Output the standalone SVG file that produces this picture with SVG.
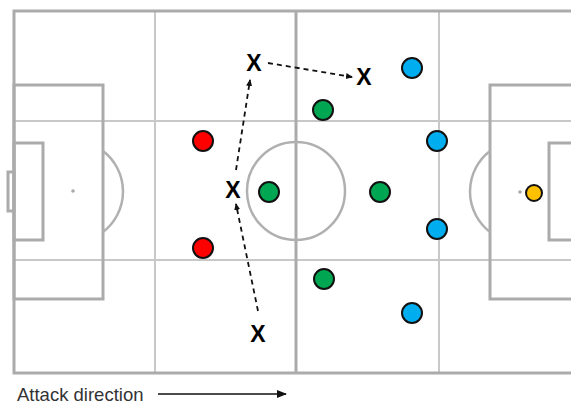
<svg xmlns="http://www.w3.org/2000/svg" width="571" height="405" viewBox="0 0 571 405">
<style>
.outer{fill:none;stroke:#ababab;stroke-width:3}
.grid{fill:none;stroke:#c8c8c8;stroke-width:2}
.mark{fill:none;stroke:#b0b0b0;stroke-width:2.5}
.p{stroke:#111;stroke-width:2}
.x{font-family:"Liberation Sans",Arial,sans-serif;font-weight:bold;font-size:23px;fill:#000;text-anchor:middle}
.dash{fill:none;stroke:#111;stroke-width:1.8;stroke-dasharray:5,4}
</style>
<defs>
<marker id="ah" markerWidth="8" markerHeight="8" refX="6" refY="4" orient="auto" markerUnits="userSpaceOnUse">
<path d="M0,1 L7,4 L0,7 Z" fill="#111"/>
</marker>
<marker id="ah2" markerWidth="10" markerHeight="10" refX="9" refY="5" orient="auto" markerUnits="userSpaceOnUse">
<path d="M0,1 L10,5 L0,9 Z" fill="#111"/>
</marker>
</defs>
<rect width="571" height="405" fill="#fff"/>
<g id="pitch">
<line class="grid" x1="155" y1="11" x2="155" y2="373"/>
<line class="grid" x1="439" y1="11" x2="439" y2="373"/>
<line class="grid" x1="14" y1="121" x2="571" y2="121"/>
<line class="grid" x1="14" y1="260" x2="571" y2="260"/>
<line class="outer" x1="296" y1="11" x2="296" y2="373"/>
<path class="outer" d="M571,11 H14 V373 H571"/>
<circle class="mark" cx="296" cy="191" r="49"/>
<rect class="outer" x="14" y="85" width="89" height="214"/>
<rect class="outer" x="14" y="143" width="29" height="97"/>
<rect class="outer" x="8" y="172" width="6" height="39"/>
<path class="mark" d="M103,151 A51,51 0 0 1 103,232"/>
<circle cx="73" cy="191" r="1.8" fill="#aaa"/>
<path class="outer" d="M575,85 H490 V299 H575"/>
<path class="outer" d="M575,143 H549 V240 H575"/>
<path class="mark" d="M490,151 A51,51 0 0 0 490,232"/>
<circle cx="520" cy="192" r="1.8" fill="#aaa"/>
</g>
<g id="connectors">
<line class="dash" x1="236" y1="170" x2="250" y2="80" marker-end="url(#ah)"/>
<line class="dash" x1="268" y1="63" x2="352" y2="77" marker-end="url(#ah)"/>
<line class="dash" x1="258" y1="311" x2="236" y2="204" marker-end="url(#ah)"/>
</g>
<g id="red-1"><circle class="p" cx="203" cy="141" r="10" fill="#ff0000"/></g>
<g id="red-2"><circle class="p" cx="203" cy="248" r="10" fill="#ff0000"/></g>
<g id="green-1"><circle class="p" cx="323" cy="110" r="10" fill="#00a651"/></g>
<g id="green-2"><circle class="p" cx="269" cy="192" r="10" fill="#00a651"/></g>
<g id="green-3"><circle class="p" cx="380" cy="192" r="10" fill="#00a651"/></g>
<g id="green-4"><circle class="p" cx="324" cy="279" r="10" fill="#00a651"/></g>
<g id="blue-1"><circle class="p" cx="412" cy="68" r="10" fill="#00aeef"/></g>
<g id="blue-2"><circle class="p" cx="437" cy="141" r="10" fill="#00aeef"/></g>
<g id="blue-3"><circle class="p" cx="437" cy="229" r="10" fill="#00aeef"/></g>
<g id="blue-4"><circle class="p" cx="412" cy="313" r="10" fill="#00aeef"/></g>
<g id="keeper"><circle class="p" cx="534" cy="193" r="8" fill="#ffc000"/></g>
<g id="x-1"><text class="x" x="254" y="71">X</text></g>
<g id="x-2"><text class="x" x="364" y="85">X</text></g>
<g id="x-3"><text class="x" x="233" y="198">X</text></g>
<g id="x-4"><text class="x" x="258" y="342">X</text></g>
<g id="legend">
<text x="17" y="401" font-family="'Liberation Sans',Arial,sans-serif" font-size="18.5" fill="#333">Attack direction</text>
<line x1="158" y1="394" x2="286" y2="394" stroke="#111" stroke-width="1.3" marker-end="url(#ah2)"/>
</g>
</svg>
